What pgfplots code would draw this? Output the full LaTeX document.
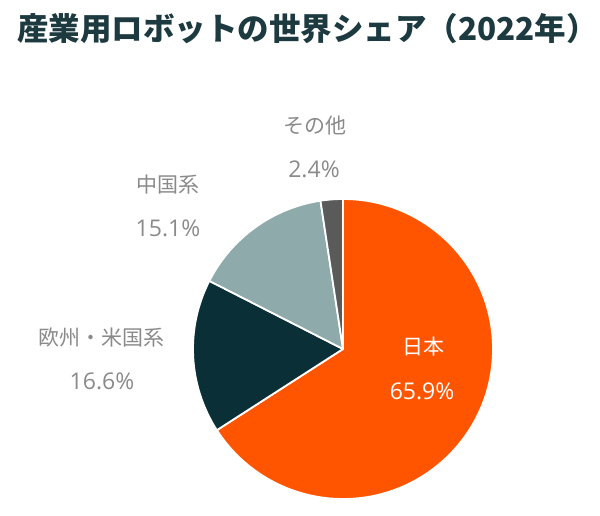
\documentclass[border=0pt]{standalone}
\usepackage{pgfplots}
\pgfplotsset{compat=1.18}
\usepackage{fontspec}
\newfontfamily\jpfont{Noto Sans CJK JP}
\newfontfamily\numfont{Open Sans}

\definecolor{jpc}{HTML}{FF5500}
\definecolor{euc}{HTML}{0B2F36}
\definecolor{cnc}{HTML}{8FAAAB}
\definecolor{otc}{HTML}{5A5A5A}
\definecolor{titlec}{HTML}{1C3A3F}
\definecolor{labelc}{HTML}{8A8A8A}

% one sector: #1 cumulative share before it (%), #2 share (%), #3 colour
\newcommand{\pieslice}[3]{%
  \fill[#3, draw=white, line width=1.8pt, line join=round]
    (axis cs:343,166) -- ++({90-3.6*(#1)}:150pt)
    arc[start angle={90-3.6*(#1)}, end angle={90-3.6*(#1+#2)}, radius=150pt] -- cycle;}

\begin{document}
\begin{tikzpicture}
\begin{axis}[hide axis, scale only axis, width=600pt, height=515pt,
  xmin=0, xmax=600, ymin=0, ymax=515, clip=false]
\path (axis cs:0,0) rectangle (axis cs:600,515);

% shares in percent, clockwise from 12 o'clock
\pieslice{0}{65.9}{jpc}
\pieslice{65.9}{16.6}{euc}
\pieslice{82.5}{15.1}{cnc}
\pieslice{97.6}{2.4}{otc}

\node[overlay, anchor=west, inner sep=0pt, titlec, font=\jpfont\bfseries\fontsize{31.5}{31.5}\selectfont]
  at (axis cs:17,486) {産業用ロボットの世界シェア（2022年）};

\node[white, font=\jpfont\fontsize{21}{21}\selectfont] at (axis cs:423,168) {日本};
\node[white, font=\numfont\fontsize{23}{23}\selectfont] at (axis cs:422,124) {65.9\%};

\node[labelc, font=\jpfont\fontsize{21}{21}\selectfont] at (axis cs:101,177) {欧州・米国系};
\node[labelc, font=\numfont\fontsize{23}{23}\selectfont] at (axis cs:102,134) {16.6\%};

\node[labelc, font=\jpfont\fontsize{21}{21}\selectfont] at (axis cs:168,330) {中国系};
\node[labelc, font=\numfont\fontsize{23}{23}\selectfont] at (axis cs:168,287) {15.1\%};

\node[labelc, font=\jpfont\fontsize{21}{21}\selectfont] at (axis cs:315,389) {その他};
\node[labelc, font=\numfont\fontsize{23}{23}\selectfont] at (axis cs:314,346) {2.4\%};
\end{axis}
\end{tikzpicture}
\end{document}
